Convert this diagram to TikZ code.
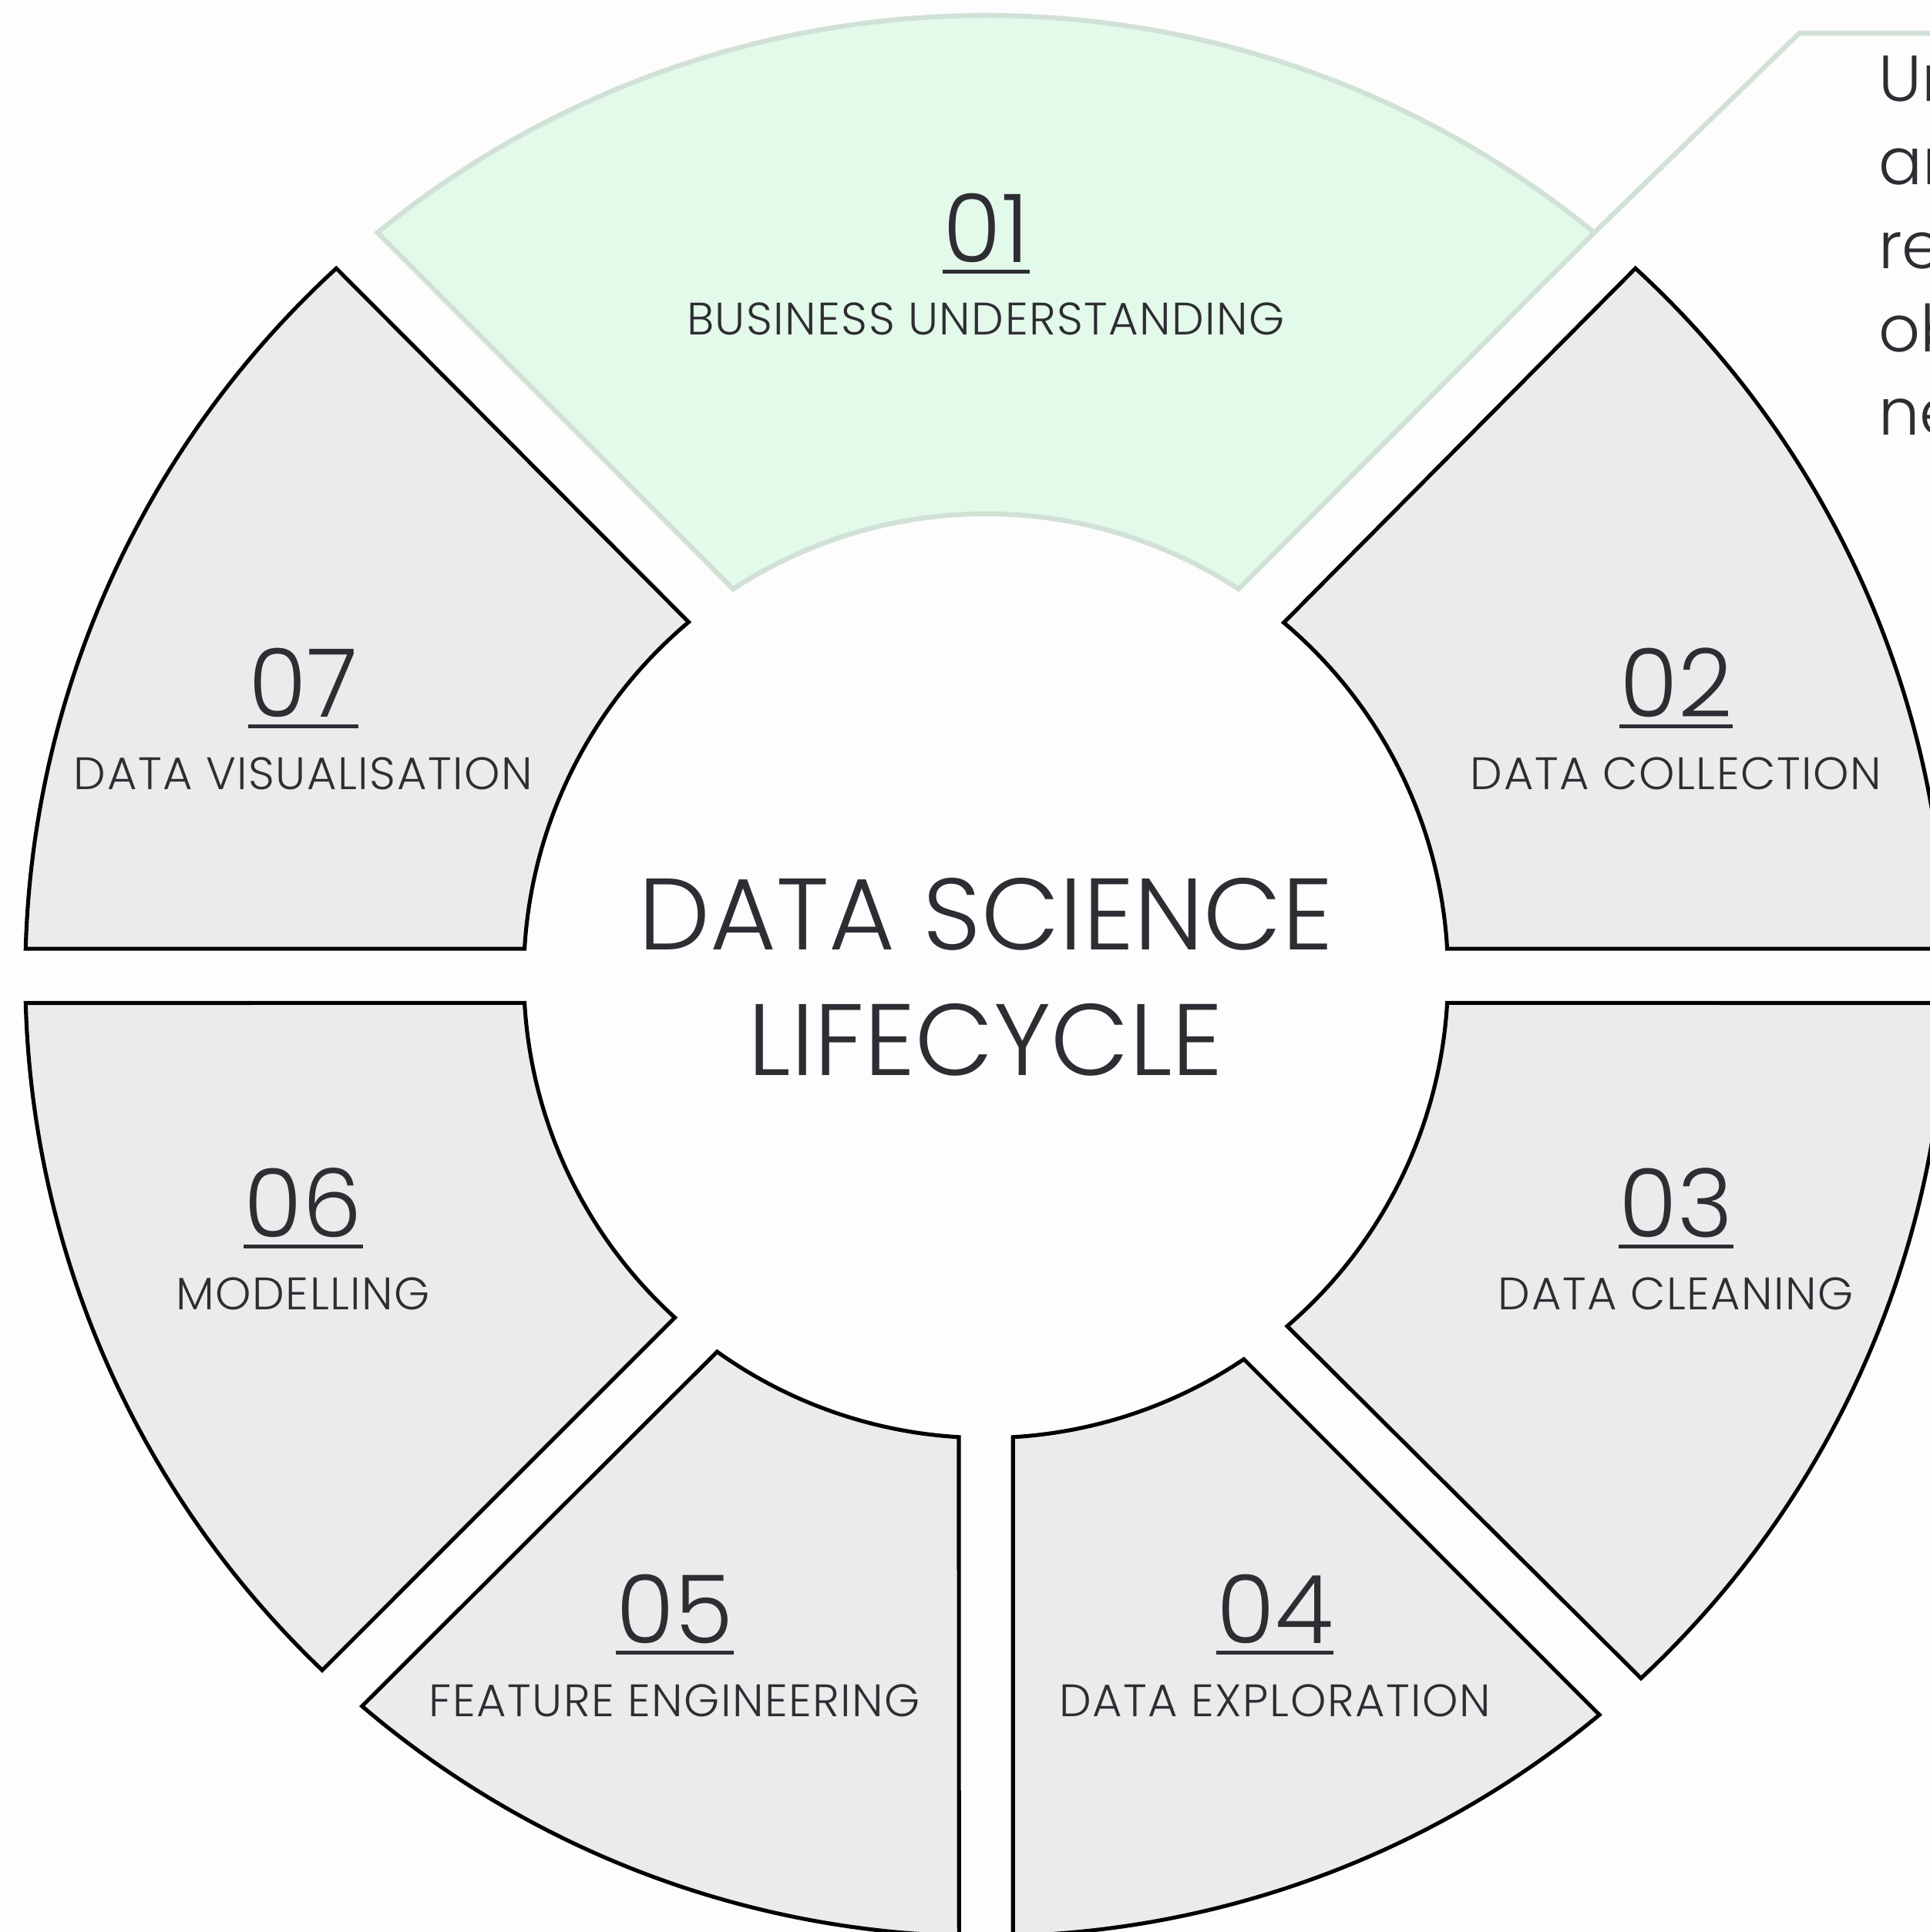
\documentclass[tikz,border=0pt]{standalone}
\usepackage{fontspec}
\setmainfont{Poppins}[UprightFont=* Light]
\usetikzlibrary{positioning}

\definecolor{paper}{HTML}{FCFDFC}
\definecolor{phasegray}{HTML}{EBEBEC}
\definecolor{mintfill}{HTML}{E3F9EA}
\definecolor{mintline}{HTML}{D1E1D5}
\definecolor{ink}{HTML}{2E2D33}

% ring radii
\def\Rout{779.5}
\def\Rin{375}

\begin{document}
\begin{tikzpicture}[x=0.01599cm, y=0.01599cm,
    phase/.style = {draw=black, line width=1.45pt, fill=phasegray},
    active/.style = {draw=mintline, line width=1.8pt, fill=mintfill},
    num/.style = {inner sep=0, anchor=base, text=ink, font=\fontsize{35}{35}\selectfont},
    tag/.style = {inner sep=0, anchor=base, text=ink, font=\fontsize{16.8}{16.8}\selectfont\addfontfeatures{LetterSpace=2.5}},
    title/.style = {inner sep=0, anchor=base, text=ink, font=\fontsize{37.5}{37.5}\selectfont},
    note/.style = {inner sep=0, anchor=north west, align=left, text=ink, font=\fontsize{24}{30.8}\selectfont}]
        \useasboundingbox (-800,-776) rectangle (766,792);
        \clip (-800,-776) rectangle (766,792);
        \fill[paper] (-800,-776) rectangle (766,792);
        %
        % phase 01 (highlighted)
        \draw[active] (50.7:\Rout) arc[start angle=50.7, end angle=129.3, radius=\Rout]
            -- (123.15:\Rin) arc[start angle=123.15, end angle=56.85, radius=\Rin] -- cycle;
        % the other phases
        \foreach \a/\b/\c/\d in {1.62/47.45/49.86/3.36, -47.0/-1.62/-3.36/-49.3,
                                 -88.38/-50.3/-56.06/-86.64, 229.5/268.4/266.64/234.44,
                                 181.62/226.3/227.7/183.36, 132.55/178.38/176.64/130.03}
            \draw[phase] (\a:\Rout) arc[start angle=\a, end angle=\b, radius=\Rout]
                -- (\c:\Rin) arc[start angle=\c, end angle=\d, radius=\Rin] -- cycle;
        %
        % numbers and names
        \foreach \n/\x/\y/\txt in {01/0/579/BUSINESS UNDERSTANDING, 02/560/210/DATA COLLECTION,
                                   03/560/-212/DATA CLEANING, 04/234.5/-542/DATA EXPLORATION,
                                   05/-252.5/-542/FEATURE ENGINEERING, 06/-554/-212/MODELLING,
                                   07/-554/210/DATA VISUALISATION} {
            \node[num] (n\n) at (\x,\y) {\n};
            \draw[ink, line width=1.4pt] ([yshift=-3.4pt]n\n.base west) -- ([yshift=-3.4pt]n\n.base east);
            \node[tag] (l\n) at ([yshift=-26.8pt]n\n.base) {\txt};
        }
        %
        \node[title] (t1) at (0,21) {DATA SCIENCE};
        \node[title] (t2) at (0,-81) {LIFECYCLE};
        %
        % callout for phase 01
        \coordinate (tip) at (50.7:\Rout);
        \coordinate (bend) at (660,765);
        \coordinate (out) at (800,765);
        \draw[mintline, line width=1.8pt] (tip) -- (bend) -- (out);
        \node[note] (desc) at (724,747) {Un\\an\\re\\ob\\ne};
      \end{tikzpicture}
\end{document}
